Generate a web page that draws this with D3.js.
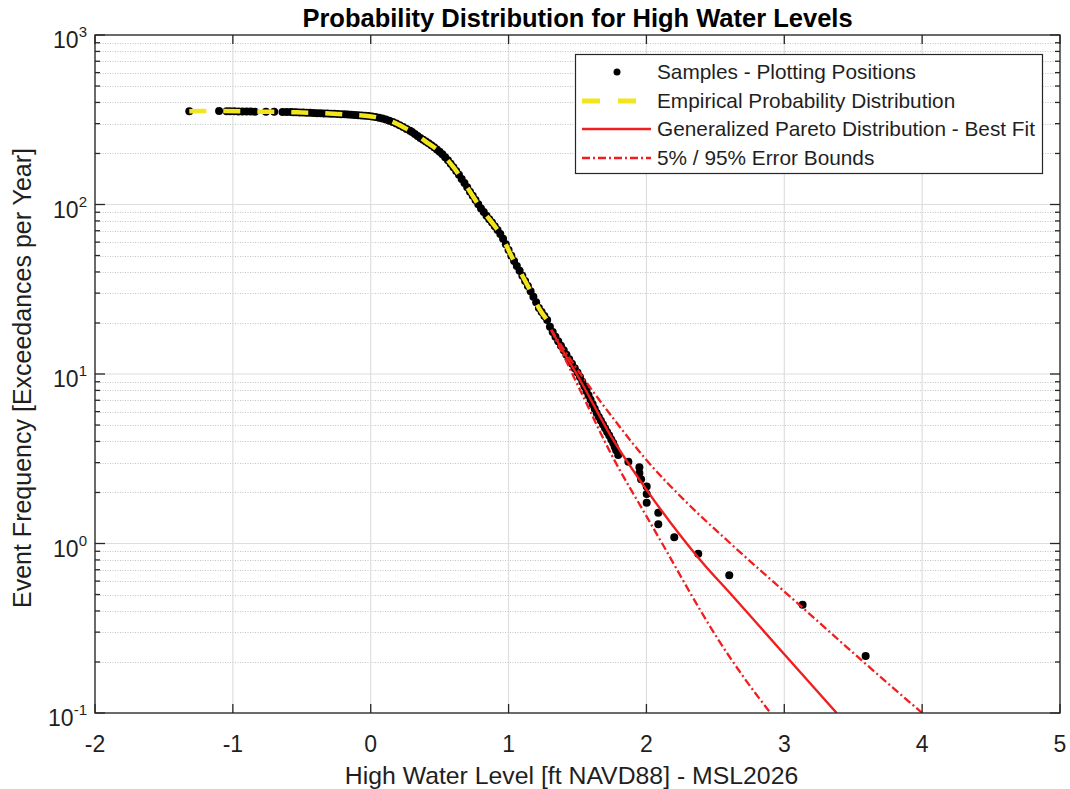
<!DOCTYPE html>
<html>
<head>
<meta charset="utf-8">
<script src="https://cdnjs.cloudflare.com/ajax/libs/d3/7.8.5/d3.min.js"></script>
<style>
body { margin: 0; background: #fff; }
text { font-family: "Liberation Sans", Arial, sans-serif; fill: #1f1f1f; }
</style>
</head>
<body>
<div id="chart"></div>
<script>
// Size of the figure
var w = 1070;
var h = 789;

// Axis ticks and labels
var xTicks = [-2, -1, 0, 1, 2, 3, 4, 5];
var xTickLabels = ["-2", "-1", "0", "1", "2", "3", "4", "5"];
var yDecades = [0.1, 1, 10, 100, 1000];
var yExponents = ["-1", "0", "1", "2", "3"];

// Samples - plotting positions (water level, exceedances per year)
var sampleX = [-1.316, -1.10, -1.045, -1.02, -0.99, -0.96, -0.93, -0.90, -0.87, -0.84, -0.76, -0.70,
  -0.64, -0.61, -0.58, -0.56,
  -0.54, -0.515, -0.49, -0.465, -0.44, -0.415, -0.39, -0.365, -0.34, -0.315, -0.29, -0.265,
  -0.24, -0.215, -0.19, -0.165, -0.14, -0.115, -0.09, -0.065, -0.04, -0.015,
  0.01, 0.035, 0.06, 0.085, 0.11, 0.135, 0.16, 0.185, 0.21, 0.235, 0.26, 0.285, 0.30,
  0.32, 0.34, 0.36, 0.38, 0.40, 0.42, 0.44, 0.46, 0.48, 0.50, 0.52, 0.54, 0.56, 0.58, 0.60,
  0.62, 0.64, 0.66, 0.68, 0.70, 0.72, 0.74, 0.76, 0.78, 0.80, 0.82, 0.84, 0.86, 0.88, 0.90,
  0.92, 0.94, 0.96, 0.98, 1.00, 1.02, 1.04, 1.06, 1.08, 1.10, 1.12, 1.14, 1.16, 1.18, 1.20,
  1.22, 1.24, 1.26, 1.28, 1.30,
  1.32, 1.34, 1.36, 1.38, 1.40, 1.42, 1.44, 1.46, 1.48, 1.50, 1.518, 1.535, 1.55, 1.565, 1.58,
  1.595, 1.61, 1.625, 1.639, 1.655, 1.67, 1.685, 1.70, 1.715, 1.73, 1.745, 1.759, 1.77, 1.78, 1.795,
  1.869, 1.949, 1.949, 1.961, 2.002, 2.002, 2.002, 2.086, 2.086, 2.202, 2.376, 2.601, 3.133, 3.59];
var sampleF = [355, 356, 355, 355, 355, 354, 354, 354, 354, 353, 352, 352,
  351, 351, 351, 350,
  350, 349.4, 348.7, 348, 347.4, 346.7, 346, 345.4, 344.8, 344.2, 343.6, 342.9,
  342, 341.2, 340.4, 339.3, 338.1, 336.9, 335.7, 335, 334.2, 332.3,
  330.4, 327.8, 325.1, 321.4, 317.7, 312.3, 306.9, 300.3, 293.8, 286.4, 279.3, 272.3, 267.9,
  260.5, 254, 247, 241, 235, 229.6, 223.9, 217.8, 211.3, 204.6, 197.7, 190.1, 182.4, 174.2, 166,
  157.8, 149.6, 141.6, 133.7, 126.2, 119.1, 112.5, 106.2, 100.2, 94.8, 90.2, 85.9, 81.8, 78.2, 74.5,
  70.8, 67, 62.7, 58.2, 53.9, 49.9, 46.4, 43.4, 40.6, 38, 35.4, 33, 30.8, 28.6, 26.5,
  24.5, 23.2, 22, 20.8, 19.0,
  17.7, 16.6, 15.6, 14.7, 13.8, 13.0, 12.2, 11.5, 10.8, 10.2, 9.6, 9.0, 8.46, 7.95, 7.48,
  7.04, 6.62, 6.23, 5.89, 5.58, 5.30, 5.04, 4.79, 4.55, 4.33, 4.11, 3.92, 3.72, 3.55, 3.33,
  3.04, 2.82, 2.61, 2.39, 2.17, 1.96, 1.74, 1.52, 1.30, 1.09, 0.87, 0.65, 0.435, 0.217];

// Empirical probability distribution
var empX = [-1.316, -1.1, -0.8, -0.54, -0.24, -0.14, -0.04, 0.06, 0.16, 0.26, 0.3, 0.4, 0.5, 0.6, 0.7, 0.8, 0.9, 0.94, 1.03, 1.1, 1.155, 1.22, 1.28];
var empF = [355, 356, 353, 350, 342, 338.1, 334.2, 325.1, 306.9, 279.3, 267.9, 235, 204.6, 166, 126.2, 94.8, 74.5, 67, 48, 38, 31.3, 24.5, 20.8];

// Generalized Pareto best fit and 5% / 95% bounds
var gpdX = [1.31, 1.4, 1.5, 1.75, 2.0, 2.39, 2.63, 3.0, 3.38];
var gpdF = [18.2, 13.4, 9.8, 4.2, 2.08, 0.80, 0.485, 0.222, 0.1];
var upX = [1.31, 1.5, 1.75, 2.0, 2.3, 2.61, 3.13, 3.59, 4.0];
var upF = [18.2, 10.6, 5.6, 3.11, 1.72, 1.0, 0.42, 0.195, 0.1];
var loX = [1.31, 1.52, 1.75, 2.0, 2.13, 2.35, 2.51, 2.7, 2.9];
var loF = [18.2, 8.0, 3.3, 1.45, 0.95, 0.46, 0.28, 0.165, 0.1];

var legendLabels = ["Samples - Plotting Positions", "Empirical Probability Distribution",
  "Generalized Pareto Distribution - Best Fit", "5% / 95% Error Bounds"];

var red = "#f01e1e";
var yellow = "#f2e51c";
var axisColor = "#262626";

var x = d3.scaleLinear().domain([-2, 5]).range([95, 1060]);
var y = d3.scaleLog().domain([0.1, 1000]).range([713, 35]);

var svg = d3.select("#chart")
  .append("svg")
  .attr("width", w)
  .attr("height", h);

svg.append("defs").append("clipPath").attr("id", "plotclip")
  .append("rect")
  .attr("x", x(-2)).attr("y", y(1000))
  .attr("width", x(5) - x(-2)).attr("height", y(0.1) - y(1000));

// minor grid (dotted) on y
var minorY = y.ticks().filter(function(d) { return yDecades.indexOf(d) < 0; });
svg.append("g").selectAll("line")
  .data(minorY)
  .enter().append("line")
  .attr("x1", x(-2)).attr("x2", x(5))
  .attr("y1", function(d) { return Math.round(y(d)) + 0.5; })
  .attr("y2", function(d) { return Math.round(y(d)) + 0.5; })
  .style("stroke", "#c4c4c4")
  .style("stroke-width", 1)
  .style("stroke-dasharray", "1,1.5");

// major grid
svg.append("g").selectAll("line")
  .data(yDecades)
  .enter().append("line")
  .attr("x1", x(-2)).attr("x2", x(5))
  .attr("y1", function(d) { return y(d); })
  .attr("y2", function(d) { return y(d); })
  .style("stroke", "#dedede")
  .style("stroke-width", 1.2);
svg.append("g").selectAll("line")
  .data(xTicks)
  .enter().append("line")
  .attr("x1", function(d) { return x(d); })
  .attr("x2", function(d) { return x(d); })
  .attr("y1", y(0.1)).attr("y2", y(1000))
  .style("stroke", "#dedede")
  .style("stroke-width", 1.2);

var plot = svg.append("g").attr("clip-path", "url(#plotclip)");

// samples
var samples = sampleX.map(function(d, i) { return [d, sampleF[i]]; });
plot.selectAll("circle")
  .data(samples)
  .enter().append("circle")
  .attr("cx", function(d) { return x(d[0]); })
  .attr("cy", function(d) { return y(d[1]); })
  .attr("r", 4)
  .style("fill", "#000");

var line = d3.line()
  .x(function(d) { return x(d[0]); })
  .y(function(d) { return y(d[1]); })
  .curve(d3.curveMonotoneX);

function pairs(a, b) { return a.map(function(d, i) { return [d, b[i]]; }); }

// empirical distribution
plot.append("path")
  .attr("d", line(pairs(empX, empF)))
  .style("fill", "none")
  .style("stroke", yellow)
  .style("stroke-width", 4.5)
  .style("stroke-dasharray", "17,17");

// GPD fit
plot.append("path")
  .attr("d", line(pairs(gpdX, gpdF)))
  .style("fill", "none")
  .style("stroke", red)
  .style("stroke-width", 2.4);

// error bounds
[pairs(upX, upF), pairs(loX, loF)].forEach(function(b) {
  plot.append("path")
    .attr("d", line(b))
    .style("fill", "none")
    .style("stroke", red)
    .style("stroke-width", 2.3)
    .style("stroke-dasharray", "8,3,2,3");
});

// axes box
svg.append("rect")
  .attr("x", x(-2)).attr("y", y(1000))
  .attr("width", x(5) - x(-2)).attr("height", y(0.1) - y(1000))
  .style("fill", "none")
  .style("stroke", axisColor)
  .style("stroke-width", 1.3);

// ticks (inside)
var tk = svg.append("g").style("stroke", axisColor).style("stroke-width", 1.3);
xTicks.forEach(function(d) {
  tk.append("line").attr("x1", x(d)).attr("x2", x(d)).attr("y1", y(0.1)).attr("y2", y(0.1) - 9);
  tk.append("line").attr("x1", x(d)).attr("x2", x(d)).attr("y1", y(1000)).attr("y2", y(1000) + 9);
});
y.ticks().forEach(function(d) {
  var len = yDecades.indexOf(d) >= 0 ? 10 : 5;
  tk.append("line").attr("x1", x(-2)).attr("x2", x(-2) + len).attr("y1", y(d)).attr("y2", y(d));
  tk.append("line").attr("x1", x(5)).attr("x2", x(5) - len).attr("y1", y(d)).attr("y2", y(d));
});

// x tick labels
svg.append("g").selectAll("text")
  .data(xTicks)
  .enter().append("text")
  .attr("x", function(d) { return x(d); })
  .attr("y", 752)
  .attr("text-anchor", "middle")
  .style("font-size", "23px")
  .text(function(d, i) { return xTickLabels[i]; });

// y tick labels 10^n
var yl = svg.append("g").selectAll("text")
  .data(yDecades)
  .enter().append("text")
  .attr("x", 87)
  .attr("y", function(d) { return y(d) + 13; })
  .attr("text-anchor", "end")
  .style("font-size", "23px");
yl.append("tspan").text("10");
yl.append("tspan")
  .attr("dy", -11)
  .style("font-size", "15px")
  .text(function(d, i) { return yExponents[i]; });

// axis labels and title
svg.append("text")
  .attr("x", (x(-2) + x(5)) / 2 - 6)
  .attr("y", 784)
  .attr("text-anchor", "middle")
  .style("font-size", "24.8px")
  .text("High Water Level [ft NAVD88] - MSL2026");

svg.append("text")
  .attr("transform", "translate(31," + ((y(0.1) + y(1000)) / 2 + 4) + ") rotate(-90)")
  .attr("text-anchor", "middle")
  .style("font-size", "25px")
  .text("Event Frequency [Exceedances per Year]");

svg.append("text")
  .attr("x", (x(-2) + x(5)) / 2)
  .attr("y", 27)
  .attr("text-anchor", "middle")
  .style("font-size", "25.5px")
  .style("font-weight", "bold")
  .style("fill", "#000")
  .text("Probability Distribution for High Water Levels");

// legend
var lg = svg.append("g");
lg.append("rect")
  .attr("x", 575.5).attr("y", 54.5)
  .attr("width", 467).attr("height", 119)
  .style("fill", "#fff")
  .style("stroke", axisColor)
  .style("stroke-width", 1.2);
var rowY = [72, 101, 129, 158];
lg.append("circle").attr("cx", 617).attr("cy", rowY[0]).attr("r", 3.5).style("fill", "#000");
lg.append("line").attr("x1", 582).attr("x2", 651).attr("y1", rowY[1]).attr("y2", rowY[1])
  .style("stroke", yellow).style("stroke-width", 5).style("stroke-dasharray", "18,18");
lg.append("line").attr("x1", 582).attr("x2", 651).attr("y1", rowY[2]).attr("y2", rowY[2])
  .style("stroke", red).style("stroke-width", 2.4);
lg.append("line").attr("x1", 582).attr("x2", 651).attr("y1", rowY[3]).attr("y2", rowY[3])
  .style("stroke", red).style("stroke-width", 2.3).style("stroke-dasharray", "8,3,2,3");
lg.selectAll("text.lab")
  .data(legendLabels)
  .enter().append("text")
  .attr("class", "lab")
  .attr("x", 657)
  .attr("y", function(d, i) { return rowY[i] + 7; })
  .style("font-size", "20.8px")
  .text(function(d) { return d; });
</script>
</body>
</html>
